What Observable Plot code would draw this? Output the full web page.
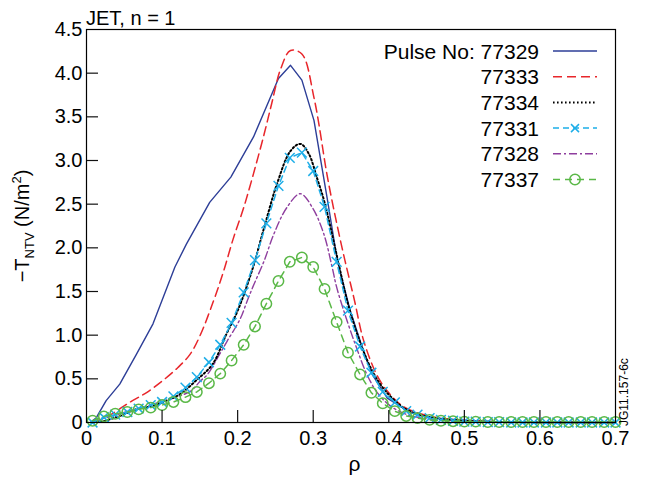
<!DOCTYPE html>
<html><head><meta charset="utf-8">
<script src="https://cdn.jsdelivr.net/npm/d3@7"></script>
<script src="https://cdn.jsdelivr.net/npm/@observablehq/plot@0.6"></script>
<style>body{margin:0;background:#fff;} svg{display:block}</style>
</head><body><div id="chart"></div>
<script>
// ---------- data ----------
const xTicks = [0, 0.1, 0.2, 0.3, 0.4, 0.5, 0.6, 0.7];
const yTicks = [0, 0.5, 1, 1.5, 2, 2.5, 3, 3.5, 4, 4.5];
const pulses = ["77329", "77333", "77334", "77331", "77328", "77337"];

// common rho grid of the marker series (77331, 77337)
const rhoGrid = [0.008, 0.023, 0.038, 0.054, 0.069, 0.085, 0.100, 0.115, 0.131, 0.146, 0.162, 0.177, 0.192, 0.208, 0.223, 0.238, 0.254, 0.269, 0.285, 0.300, 0.315, 0.331, 0.346, 0.362, 0.377, 0.392, 0.408, 0.423, 0.438, 0.454, 0.469, 0.485, 0.500, 0.515, 0.531, 0.546, 0.562, 0.577, 0.592, 0.608, 0.623, 0.638, 0.654, 0.669, 0.685, 0.700];
const t77331 = [0, 0.06, 0.09, 0.12, 0.16, 0.20, 0.235, 0.30, 0.40, 0.52, 0.69, 0.89, 1.14, 1.49, 1.86, 2.28, 2.71, 3.03, 3.09, 2.88, 2.47, 1.84, 1.28, 0.87, 0.57, 0.35, 0.23, 0.13, 0.09, 0.05, 0.03, 0.02, 0.01, 0.01, 0.005, 0.005, 0, 0, 0, 0, 0, 0, 0, 0, 0, 0];
const t77337 = [0.02, 0.07, 0.10, 0.12, 0.15, 0.17, 0.20, 0.235, 0.29, 0.35, 0.45, 0.56, 0.71, 0.89, 1.10, 1.36, 1.62, 1.84, 1.89, 1.78, 1.53, 1.15, 0.80, 0.55, 0.34, 0.22, 0.13, 0.075, 0.05, 0.03, 0.02, 0.015, 0.01, 0.01, 0.005, 0.005, 0.005, 0.005, 0.005, 0.005, 0.005, 0.005, 0.005, 0.005, 0.005, 0.005];

const rho29 = [0.005, 0.013, 0.026, 0.044, 0.066, 0.088, 0.117, 0.132, 0.163, 0.191, 0.221, 0.254, 0.270, 0.285, 0.301, 0.319, 0.332, 0.349, 0.365, 0.378, 0.398, 0.429, 0.459, 0.50, 0.55, 0.60, 0.70];
const t77329 = [0, 0.055, 0.25, 0.44, 0.78, 1.13, 1.78, 2.04, 2.52, 2.81, 3.27, 3.94, 4.09, 3.92, 3.46, 2.54, 1.85, 1.28, 0.86, 0.55, 0.28, 0.11, 0.055, 0.02, 0.005, 0, 0];

const rho33 = [0.010, 0.030, 0.057, 0.079, 0.101, 0.121, 0.137, 0.150, 0.168, 0.181, 0.194, 0.208, 0.221, 0.235, 0.245, 0.257, 0.270, 0.285, 0.301, 0.318, 0.327, 0.340, 0.354, 0.367, 0.385, 0.400, 0.418, 0.450, 0.500, 0.550, 0.600, 0.700];
const t77333 = [0, 0.08, 0.23, 0.34, 0.48, 0.63, 0.78, 0.99, 1.39, 1.72, 2.10, 2.46, 2.85, 3.30, 3.65, 4.05, 4.26, 4.22, 3.72, 2.85, 2.45, 1.93, 1.42, 0.93, 0.53, 0.34, 0.19, 0.08, 0.025, 0.008, 0, 0];

const rho34 = [0.008, 0.020, 0.044, 0.066, 0.088, 0.106, 0.123, 0.145, 0.167, 0.185, 0.200, 0.219, 0.235, 0.252, 0.270, 0.283, 0.294, 0.305, 0.315, 0.331, 0.346, 0.362, 0.377, 0.392, 0.408, 0.423, 0.440, 0.460, 0.500, 0.550, 0.600, 0.700];
const t77334 = [0, 0.01, 0.075, 0.15, 0.19, 0.25, 0.32, 0.48, 0.67, 1.01, 1.28, 1.74, 2.23, 2.73, 3.11, 3.19, 3.08, 2.80, 2.52, 1.92, 1.36, 0.92, 0.61, 0.40, 0.25, 0.15, 0.09, 0.05, 0.02, 0.005, 0, 0];

const rho28 = [0.008, 0.020, 0.040, 0.060, 0.080, 0.100, 0.111, 0.138, 0.150, 0.160, 0.176, 0.186, 0.203, 0.213, 0.220, 0.235, 0.248, 0.265, 0.283, 0.299, 0.314, 0.325, 0.331, 0.345, 0.358, 0.371, 0.385, 0.402, 0.424, 0.446, 0.500, 0.550, 0.700];
const t77328 = [0, 0.04, 0.09, 0.14, 0.19, 0.24, 0.27, 0.36, 0.47, 0.55, 0.78, 0.93, 1.18, 1.40, 1.55, 1.85, 2.16, 2.46, 2.62, 2.46, 2.16, 1.78, 1.55, 1.16, 0.84, 0.55, 0.34, 0.19, 0.09, 0.05, 0.015, 0.005, 0];

// ---------- layout / style ----------
const W = 646, H = 478, mL = 86, mR = 31, mT = 29, mB = 56;
const innerW = W - mL - mR, innerH = H - mT - mB;
const TICK = 12;
const FONT = "'Liberation Sans', Arial, Helvetica, sans-serif";
const C = {
  "77329": "#2D3E97", "77333": "#E8262B", "77334": "#000000",
  "77331": "#1EAEE8", "77328": "#8E3E9E", "77337": "#5AB847"
};
const DASH = {
  "77329": null, "77333": "9,5", "77334": "1.6,2.4",
  "77331": "6,4", "77328": "8,3,2,3", "77337": "7,5"
};
const rows = (rho, vals) => rho.map((r, i) => ({rho: r, t: vals[i]}));
const d29 = rows(rho29, t77329), d33 = rows(rho33, t77333), d34 = rows(rho34, t77334);
const d28 = rows(rho28, t77328), d31 = rows(rhoGrid, t77331), d37 = rows(rhoGrid, t77337);
const fmt = d => d === 0 ? "0" : d3.format(".1f")(d);

const plot = Plot.plot({
  width: W, height: H,
  marginLeft: mL, marginRight: mR, marginTop: mT, marginBottom: mB,
  style: {fontFamily: FONT, fontSize: "20px", background: "#fff", color: "#000", overflow: "visible"},
  x: {domain: [0, 0.7]},
  y: {domain: [0, 4.5]},
  marks: [
    Plot.axisX(xTicks, {tickSize: 0, tickPadding: 8, tickFormat: fmt, label: null, fontSize: 20}),
    Plot.axisY(yTicks, {tickSize: 0, tickPadding: 4, tickFormat: fmt, label: null, fontSize: 20}),
    Plot.line(d29, {x: "rho", y: "t", stroke: C["77329"], strokeWidth: 1.4}),
    Plot.line(d33, {x: "rho", y: "t", stroke: C["77333"], strokeWidth: 1.5, strokeDasharray: DASH["77333"], curve: "catmull-rom"}),
    Plot.line(d28, {x: "rho", y: "t", stroke: C["77328"], strokeWidth: 1.4, strokeDasharray: DASH["77328"], curve: "catmull-rom"}),
    Plot.line(d34, {x: "rho", y: "t", stroke: C["77334"], strokeWidth: 2, strokeDasharray: DASH["77334"], curve: "catmull-rom"}),
    Plot.line(d31, {x: "rho", y: "t", stroke: C["77331"], strokeWidth: 1.5, strokeDasharray: DASH["77331"]}),
    Plot.dot(d31, {x: "rho", y: "t", symbol: "times", r: 4.5, stroke: C["77331"], strokeWidth: 1.5}),
    Plot.line(d37, {x: "rho", y: "t", stroke: C["77337"], strokeWidth: 1.5, strokeDasharray: DASH["77337"]}),
    Plot.dot(d37, {x: "rho", y: "t", symbol: "circle", r: 5.2, stroke: C["77337"], fill: "none", strokeWidth: 1.5}),
    // inward ticks along bottom and left edges of the frame
    Plot.tickX(xTicks.slice(1, -1), {x: d => d, insetTop: innerH - TICK, stroke: "#111", strokeWidth: 1.2}),
    Plot.tickY(yTicks.slice(1, -1), {y: d => d, insetRight: innerW - TICK, stroke: "#111", strokeWidth: 1.2}),
    Plot.frame({stroke: "#000", strokeWidth: 1.2})
  ]
});
document.getElementById("chart").append(plot);

// ---------- annotations (title, axis labels, legend) ----------
const svg = d3.select(plot);
svg.append("text").attr("x", 86).attr("y", 25).attr("text-anchor", "start")
  .attr("font-family", FONT).attr("font-size", 20).attr("fill", "#000").text("JET, n = 1");
svg.append("text").attr("x", mL + innerW / 2 + 4).attr("y", 471).attr("text-anchor", "middle")
  .attr("font-family", FONT).attr("font-size", 21).attr("fill", "#000").text("ρ");
const yl = svg.append("text").attr("transform", "translate(29,226) rotate(-90)")
  .attr("text-anchor", "middle").attr("font-family", FONT).attr("font-size", 20).attr("fill", "#000");
yl.append("tspan").text("\u2212T");
yl.append("tspan").attr("font-size", 13).attr("dy", 5).text("NTV");
yl.append("tspan").attr("dy", -5).text(" (N/m");
yl.append("tspan").attr("font-size", 13).attr("dy", -8).text("2");
yl.append("tspan").attr("dy", 8).text(")");
svg.append("text").attr("transform", "translate(628,426) rotate(-90)").attr("text-anchor", "start")
  .attr("font-family", FONT).attr("font-size", 12).attr("fill", "#000").text("JG11.157-6c");
const lg = svg.append("g").attr("font-family", FONT).attr("font-size", 21);
pulses.forEach((p, i) => {
  const y = 51 + i * 25.7;
  lg.append("text").attr("x", 539).attr("y", y).attr("dy", "0.36em").attr("text-anchor", "end")
    .attr("fill", "#000").text(i === 0 ? "Pulse No: " + p : p);
  lg.append("line").attr("x1", 553).attr("x2", 597).attr("y1", y).attr("y2", y)
    .attr("stroke", C[p]).attr("stroke-width", p === "77334" ? 2 : 1.5)
    .attr("stroke-dasharray", DASH[p]);
  if (p === "77331") {
    lg.append("path").attr("d", `M${575 - 4},${y - 4}L${575 + 4},${y + 4}M${575 - 4},${y + 4}L${575 + 4},${y - 4}`)
      .attr("stroke", C[p]).attr("stroke-width", 1.5).attr("fill", "none");
  }
  if (p === "77337") {
    lg.append("circle").attr("cx", 575).attr("cy", y).attr("r", 5.2)
      .attr("stroke", C[p]).attr("stroke-width", 1.5).attr("fill", "none");
  }
});
</script>
</body></html>
